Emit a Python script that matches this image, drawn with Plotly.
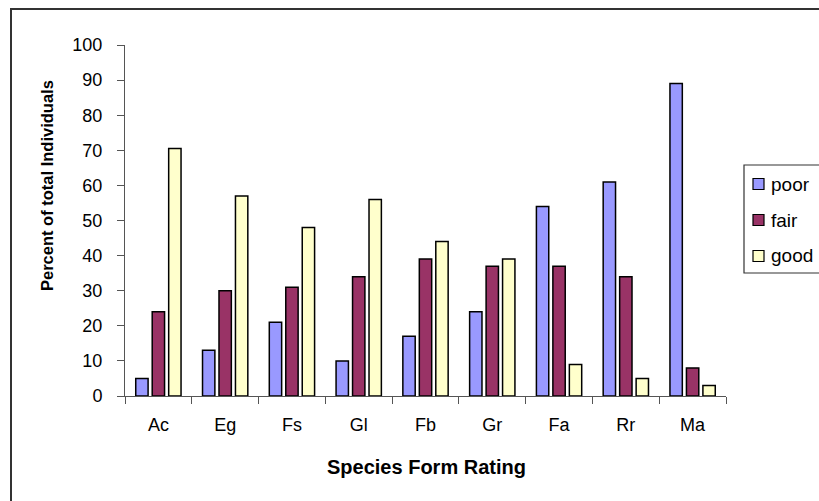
import plotly.graph_objects as go

# Species and form-rating percentages
species = ["Ac", "Eg", "Fs", "Gl", "Fb", "Gr", "Fa", "Rr", "Ma"]
poor = [5, 13, 21, 10, 17, 24, 54, 61, 89]
fair = [24, 30, 31, 34, 39, 37, 37, 34, 8]
good = [70.5, 57, 48, 56, 44, 39, 9, 5, 3]
y_ticks = list(range(0, 101, 10))

series = [
    ("poor", poor, "#9999FF"),
    ("fair", fair, "#993366"),
    ("good", good, "#FFFFCC"),
]

FONT = "Arial, Liberation Sans, sans-serif"
W, H = 819, 501
L, R, T, B = 125, 93, 45, 105

fig = go.Figure()
for name, vals, color in series:
    fig.add_trace(go.Bar(
        x=species, y=vals, name=name,
        marker=dict(color=color, line=dict(color="#000000", width=1.5)),
        showlegend=False,
    ))

fig.update_layout(
    width=W, height=H,
    margin=dict(l=L, r=R, t=T, b=B, pad=0),
    paper_bgcolor="white", plot_bgcolor="white",
    barmode="group", bargap=0.26, bargroupgap=0.25,
    font=dict(family=FONT, size=18, color="#000000"),
)
fig.update_xaxes(
    showline=True, linecolor="#555555", linewidth=1,
    ticks="outside", tickson="boundaries", ticklen=7, tickcolor="#555555",
    ticklabelstandoff=12, showgrid=False,
    tickfont=dict(size=18),
)
fig.update_yaxes(
    range=[0, 100], tickvals=y_ticks, ticktext=[str(v) for v in y_ticks],
    showline=True, linecolor="#555555", linewidth=1,
    ticks="outside", ticklen=7, tickcolor="#555555",
    ticklabelstandoff=11, showgrid=False, zeroline=False,
    tickfont=dict(size=18),
)

pw, ph = W - L - R, H - T - B


def px_x(x):
    return (x - L) / pw


def px_y(y):
    return (H - B - y) / ph


# Axis titles
fig.add_annotation(
    text="<b>Species Form Rating</b>", xref="paper", yref="paper",
    x=px_x(426), y=px_y(467), xanchor="center", yanchor="middle",
    showarrow=False, font=dict(size=20, family=FONT),
)
fig.add_annotation(
    text="<b>Percent of total Individuals</b>", xref="paper", yref="paper",
    x=px_x(47), y=px_y(186), xanchor="center", yanchor="middle",
    textangle=-90, showarrow=False, font=dict(size=16.5, family=FONT),
)

# Chart frame
fig.add_shape(type="rect", xref="paper", yref="paper",
              x0=px_x(11), x1=px_x(W + 20), y0=px_y(H + 20), y1=px_y(9),
              line=dict(color="#333333", width=2), layer="below")

# Legend box and entries
fig.add_shape(type="rect", xref="paper", yref="paper",
              x0=px_x(744), x1=px_x(W + 20), y0=px_y(273), y1=px_y(165),
              line=dict(color="#333333", width=1.2), fillcolor="white")
for i, (name, vals, color) in enumerate(series):
    cy = 184 + 36 * i
    fig.add_shape(type="rect", xref="paper", yref="paper",
                  x0=px_x(753), x1=px_x(764), y0=px_y(cy + 5.5), y1=px_y(cy - 5.5),
                  line=dict(color="#000000", width=1.2), fillcolor=color)
    fig.add_annotation(
        text=name, xref="paper", yref="paper",
        x=px_x(769), y=px_y(cy), xanchor="left", yanchor="middle",
        showarrow=False, font=dict(size=19, family=FONT),
    )

fig.write_html("out.html")
